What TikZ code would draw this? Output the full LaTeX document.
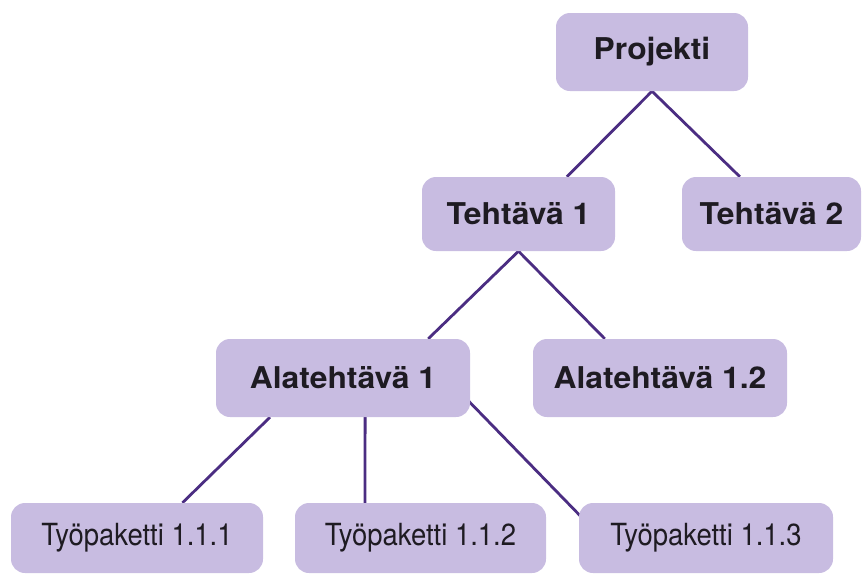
\documentclass[tikz,border=0pt]{standalone}
\usepackage{fontspec}
\newfontfamily\boldfam{TeX Gyre Heros}[FakeStretch=1.06]
\newfontfamily\regfam{TeX Gyre Heros}[FakeStretch=0.9]
\usetikzlibrary{calc}
\definecolor{boxfill}{RGB}{200,188,225}
\definecolor{linkcol}{RGB}{75,45,130}
\definecolor{txtcol}{RGB}{30,27,34}
\pgfdeclarelayer{background}
\pgfsetlayers{background,main}
\tikzset{
  box/.style={draw=none, fill=boxfill, rounded corners=14pt, inner sep=0pt,
    text=txtcol, anchor=center},
  topbox/.style={box, font=\boldfam\bfseries\fontsize{30}{33}\selectfont},
  wpbox/.style={box, font=\regfam\fontsize{30.5}{33}\selectfont},
  link/.style={draw=linkcol, line width=2.8pt}
}
\begin{document}
\begin{tikzpicture}[x=1pt,y=-1pt]
\useasboundingbox (0,0) rectangle (863,574);
\node[topbox, minimum width=192pt, minimum height=78pt] (p)  at (652,52)   {Projekti};
\node[topbox, minimum width=193pt, minimum height=74pt] (t1) at (518.5,214) {Tehtävä 1};
\node[topbox, minimum width=179pt, minimum height=74pt] (t2) at (771.5,214) {Tehtävä 2};
\node[topbox, minimum width=254pt, minimum height=78pt] (a1) at (343,378)  {Alatehtävä 1};
\node[topbox, minimum width=254pt, minimum height=78pt] (a2) at (660,378)  {Alatehtävä 1.2};
\node[wpbox, minimum width=252pt, minimum height=70pt] (w1) at (137,538)   {Työpaketti 1.1.1};
\node[wpbox, minimum width=251pt, minimum height=70pt] (w2) at (420.5,538) {Työpaketti 1.1.2};
\node[wpbox, minimum width=254pt, minimum height=70pt] (w3) at (706,538)   {Työpaketti 1.1.3};
\begin{pgfonlayer}{background}
\draw[link] (p.south) -- ($(t1.north west)!0.75!(t1.north east)$);
\draw[link] (p.south) -- ($(t2.north west)!0.324!(t2.north east)$);
\draw[link] (t1.south) -- ($(a1.north west)!0.835!(a1.north east)$);
\draw[link] (t1.south) -- ($(a2.north west)!0.283!(a2.north east)$);
\draw[link] ($(a1.south west)!0.213!(a1.south east)$) -- ($(w1.north west)!0.68!(w1.north east)$);
\draw[link] ($(a1.south west)!0.587!(a1.south east)$) -- ($(w2.north west)!0.279!(w2.north east)$);
\draw[link] ($(a1.east)+(-24,0)$) -- ($(w3.west)+(23,0)$);
\end{pgfonlayer}
\end{tikzpicture}
\end{document}
